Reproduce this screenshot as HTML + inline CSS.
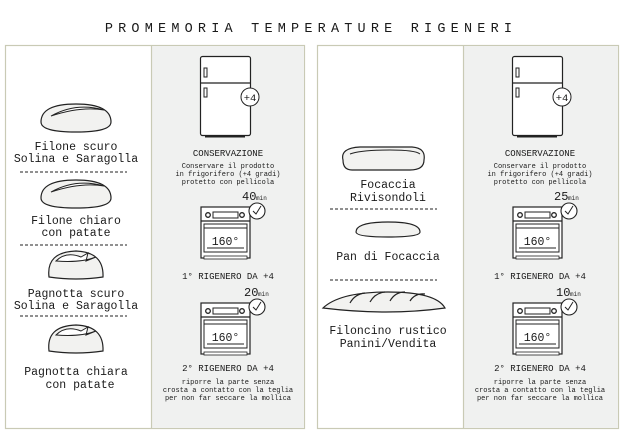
<!DOCTYPE html>
<html><head><meta charset="utf-8"><style>
html,body{margin:0;padding:0;background:#fff;}
svg{display:block}
text{font-family:"Liberation Mono","DejaVu Sans Mono",monospace;fill:#1a1a1a}
</style></head><body>
<svg width="623" height="440" viewBox="0 0 623 440" xmlns="http://www.w3.org/2000/svg">
<defs>
<g id="col">
  <rect x="200.5" y="56.5" width="50" height="79" rx="2" fill="#fff" stroke="#222" stroke-width="1.2"/>
  <line x1="200.5" y1="83" x2="250.5" y2="83" stroke="#222" stroke-width="1.2"/>
  <rect x="204" y="68" width="3" height="9" fill="none" stroke="#222"/>
  <rect x="204" y="88" width="3" height="9" fill="none" stroke="#222"/>
  <rect x="205" y="135" width="40" height="2.5" fill="#222"/>
  <circle cx="250" cy="97" r="9" fill="#fff" stroke="#222" stroke-width="1"/>
  <text x="250" y="101" font-size="10.5" text-anchor="middle" font-family="Liberation Sans,sans-serif">+4</text>
  <text x="228" y="156" font-size="9" text-anchor="middle">CONSERVAZIONE</text>
  <text x="228" y="168" font-size="7" text-anchor="middle">Conservare il prodotto</text>
  <text x="228" y="176" font-size="7" text-anchor="middle">in frigorifero (+4 gradi)</text>
  <text x="228" y="184" font-size="7" text-anchor="middle">protetto con pellicola</text>
</g>
<g id="oven">
  <rect x="201" y="207" width="49" height="51" fill="#fff" stroke="#222" stroke-width="1.2"/>
  <circle cx="208" cy="215" r="2.3" fill="none" stroke="#222" stroke-width="1.3"/>
  <circle cx="242" cy="215" r="2.3" fill="none" stroke="#222" stroke-width="1.3"/>
  <rect x="213" y="212" width="25" height="6" fill="none" stroke="#222"/>
  <line x1="201" y1="221" x2="250" y2="221" stroke="#222" stroke-width="1.2"/>
  <rect x="204" y="224" width="43" height="28" fill="none" stroke="#222" stroke-width="1"/>
  <line x1="204" y1="228" x2="247" y2="228" stroke="#222"/>
  <line x1="207" y1="248" x2="244" y2="248" stroke="#222"/>
  <text x="225.5" y="245" font-size="11.5" text-anchor="middle">160°</text>
  <rect x="204" y="256" width="43" height="3" fill="#fff" stroke="#222" stroke-width="0.8"/>
  <circle cx="257" cy="211" r="8" fill="#fff" stroke="#222" stroke-width="1.1"/>
  <polyline points="253,211 256,214 261,206" fill="none" stroke="#222" stroke-width="1"/>
</g>
<g id="loaf">
  <path d="M-35,4 Q-35,-14 0,-14 Q35,-14 35,4 Q35,14 0,14 Q-35,14 -35,4Z" fill="#f2f2f0" stroke="#222" stroke-width="1.2"/>
  <path d="M-25,-2 Q0,-16 28,-8 Q5,-12 -25,-2Z" fill="#fff" stroke="#222" stroke-width="1"/>
</g>
<g id="pag">
  <path d="M-27,12 Q-30,-13 0,-14 Q28,-13 27,12 Q0,16 -27,12Z" fill="#f2f2f0" stroke="#222" stroke-width="1.2"/>
  <path d="M-20,-4 Q-10,-14 5,-8 L12,-12 L10,-4 L20,-8 Q5,-2 -20,-4Z" fill="#fff" stroke="#222" stroke-width="1"/>
</g>
</defs>

<text x="311" y="32" font-size="13.5" text-anchor="middle" letter-spacing="5.2" font-family="Liberation Sans,sans-serif">PROMEMORIA TEMPERATURE RIGENERI</text>

<rect x="5.5" y="45.5" width="299" height="383" fill="#fff" stroke="#c9cab5" stroke-width="1.2"/>
<rect x="152" y="46" width="152" height="382" fill="#f0f1f0"/>
<line x1="151.5" y1="45" x2="151.5" y2="428" stroke="#c9cab5" stroke-width="1.2"/>
<use href="#col"/>
<use href="#oven"/>
<text x="242" y="200" font-size="12">40</text><text x="256" y="200" font-size="6">min</text>
<text x="228" y="279" font-size="9" text-anchor="middle">1° RIGENERO DA +4</text>
<use href="#oven" transform="translate(0,96)"/>
<text x="244" y="296" font-size="12">20</text><text x="258" y="296" font-size="6">min</text>
<text x="228" y="371" font-size="9" text-anchor="middle">2° RIGENERO DA +4</text>
<text x="228" y="384" font-size="7" text-anchor="middle">riporre la parte senza</text>
<text x="228" y="392" font-size="7" text-anchor="middle">crosta a contatto con la teglia</text>
<text x="228" y="400" font-size="7" text-anchor="middle">per non far seccare la mollica</text>

<use href="#loaf" transform="translate(76,118)"/>
<text x="76" y="150" font-size="11.5" text-anchor="middle">Filone scuro</text>
<text x="76" y="162" font-size="11.5" text-anchor="middle">Solina e Saragolla</text>
<line x1="20" y1="172" x2="127" y2="172" stroke="#222" stroke-dasharray="3,2"/>
<use href="#loaf" transform="translate(76,194)"/>
<text x="76" y="224" font-size="11.5" text-anchor="middle">Filone chiaro</text>
<text x="76" y="236" font-size="11.5" text-anchor="middle">con patate</text>
<line x1="20" y1="245" x2="127" y2="245" stroke="#222" stroke-dasharray="3,2"/>
<use href="#pag" transform="translate(76,265)"/>
<text x="76" y="297" font-size="11.5" text-anchor="middle">Pagnotta scuro</text>
<text x="76" y="309" font-size="11.5" text-anchor="middle">Solina e Saragolla</text>
<line x1="20" y1="316" x2="127" y2="316" stroke="#222" stroke-dasharray="3,2"/>
<use href="#pag" transform="translate(76,339)"/>
<text x="76" y="375" font-size="11.5" text-anchor="middle">Pagnotta chiara</text>
<text x="80" y="388" font-size="11.5" text-anchor="middle">con patate</text>

<rect x="317.5" y="45.5" width="301" height="383" fill="#fff" stroke="#c9cab5" stroke-width="1.2"/>
<rect x="464" y="46" width="154" height="382" fill="#f0f1f0"/>
<line x1="463.5" y1="45" x2="463.5" y2="428" stroke="#c9cab5" stroke-width="1.2"/>
<g transform="translate(312,0)">
<use href="#col"/>
<use href="#oven"/>
<text x="242" y="200" font-size="12">25</text><text x="256" y="200" font-size="6">min</text>
<text x="228" y="279" font-size="9" text-anchor="middle">1° RIGENERO DA +4</text>
<use href="#oven" transform="translate(0,96)"/>
<text x="244" y="296" font-size="12">10</text><text x="258" y="296" font-size="6">min</text>
<text x="228" y="371" font-size="9" text-anchor="middle">2° RIGENERO DA +4</text>
<text x="228" y="384" font-size="7" text-anchor="middle">riporre la parte senza</text>
<text x="228" y="392" font-size="7" text-anchor="middle">crosta a contatto con la teglia</text>
<text x="228" y="400" font-size="7" text-anchor="middle">per non far seccare la mollica</text>
</g>

<path d="M343,160 Q340,148 360,147 L412,147 Q426,148 424,160 Q424,170 410,170 L352,170 Q343,170 343,160Z" fill="#f2f2f0" stroke="#222" stroke-width="1.2"/>
<path d="M350,154 Q360,150 390,150 Q415,150 420,154" fill="none" stroke="#222"/>
<text x="388" y="188" font-size="11.5" text-anchor="middle">Focaccia</text>
<text x="388" y="201" font-size="11.5" text-anchor="middle">Rivisondoli</text>
<line x1="330" y1="209" x2="437" y2="209" stroke="#222" stroke-dasharray="3,2"/>
<path d="M356,232 Q356,222 388,222 Q420,222 420,232 Q420,237 388,237 Q356,237 356,232Z" fill="#f2f2f0" stroke="#222" stroke-width="1.2"/>
<text x="388" y="260" font-size="11.5" text-anchor="middle">Pan di Focaccia</text>
<line x1="330" y1="280" x2="437" y2="280" stroke="#222" stroke-dasharray="3,2"/>
<path d="M323,308 Q340,292 388,292 Q436,292 445,308 Q388,316 323,308Z" fill="#f2f2f0" stroke="#222" stroke-width="1.2"/>
<path d="M350,303 Q355,294 365,293 M370,302 Q375,293 385,292 M390,301 Q395,292 405,292 M410,301 Q415,293 425,294" fill="none" stroke="#222" stroke-width="1.2"/>
<text x="388" y="334" font-size="11.5" text-anchor="middle">Filoncino rustico</text>
<text x="388" y="347" font-size="11.5" text-anchor="middle">Panini/Vendita</text>
</svg>
</body></html>
